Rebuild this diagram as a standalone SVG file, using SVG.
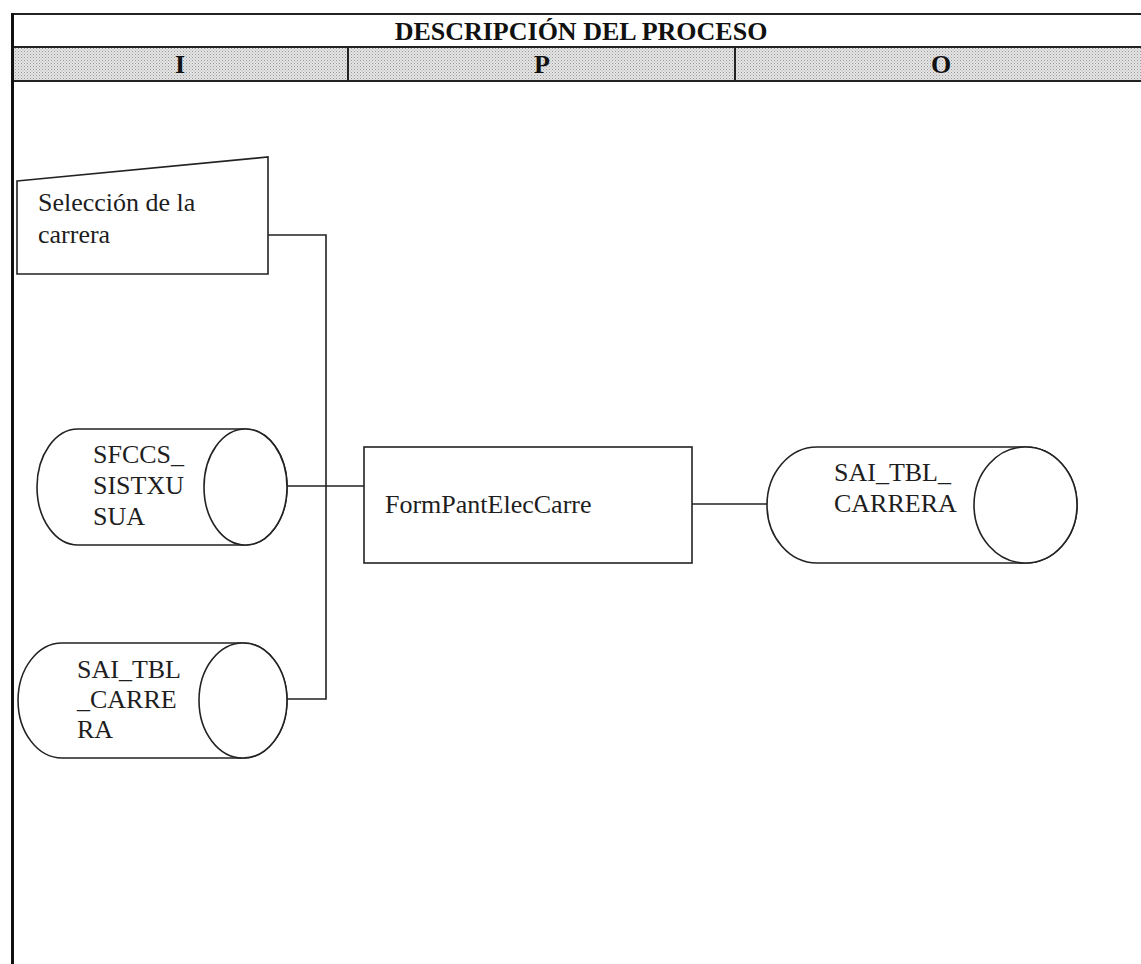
<svg xmlns="http://www.w3.org/2000/svg" width="1141" height="964" viewBox="0 0 1141 964">
<style>
.line{fill:none;stroke:#222;stroke-width:1.6}
.shape{fill:#fff;stroke:#222;stroke-width:1.6}
.grid{fill:none;stroke:#222;stroke-width:2}
.t{font-family:"Liberation Serif","Times New Roman",serif;font-size:26px;fill:#1e1e1e}
.h{font-family:"Liberation Serif","Times New Roman",serif;font-size:26px;font-weight:bold;fill:#111}
</style>
<defs>
<pattern id="dots" width="3" height="3" patternUnits="userSpaceOnUse">
<rect width="3" height="3" fill="#e4e4e4"/>
<rect x="0" y="0" width="1" height="1" fill="#9a9a9a"/>
<rect x="1.5" y="1.5" width="1" height="1" fill="#b0b0b0"/>
</pattern>
</defs>
<rect width="1141" height="964" fill="#fff"/>
<g id="header">
<rect x="13" y="47" width="1135" height="34" fill="url(#dots)"/>
<line class="grid" x1="12" y1="14" x2="1141" y2="14"/>
<line class="grid" x1="12" y1="47" x2="1141" y2="47"/>
<line class="grid" x1="12" y1="81" x2="1141" y2="81"/>
<line class="grid" x1="348" y1="47" x2="348" y2="81"/>
<line class="grid" x1="735" y1="47" x2="735" y2="81"/>
<line x1="12.5" y1="13" x2="12.5" y2="964" stroke="#111" stroke-width="3"/>
<text class="h" x="581" y="40" text-anchor="middle">DESCRIPCIÓN DEL PROCESO</text>
<text class="h" x="180" y="73" text-anchor="middle">I</text>
<text class="h" x="542" y="73" text-anchor="middle">P</text>
<text class="h" x="941" y="73" text-anchor="middle">O</text>
</g>
<g id="connectors">
<polyline class="line" points="268,235 326,235 326,699 287,699"/>
<line class="line" x1="287" y1="486" x2="364" y2="486"/>
<line class="line" x1="692" y1="504" x2="767" y2="504"/>
</g>
<g id="seleccion">
<polygon class="shape" points="17,181 268,157 268,274 17,274"/>
<text class="t" x="38" y="211">Selección de la</text>
<text class="t" x="38" y="243">carrera</text>
</g>
<g id="sfccs">
<path class="shape" d="M78,429 L245.5,429 A41.5,58 0 0 1 245.5,545 L78,545 A41,58 0 0 1 78,429 Z"/>
<ellipse class="shape" cx="245.5" cy="487" rx="41.5" ry="58"/>
<text class="t" x="93" y="463">SFCCS_</text>
<text class="t" x="93" y="494">SISTXU</text>
<text class="t" x="93" y="525">SUA</text>
</g>
<g id="sai_tbl_carrera_in">
<path class="shape" d="M62,643 L243,643 A44,57.5 0 0 1 243,758 L62,758 A44,57.5 0 0 1 62,643 Z"/>
<ellipse class="shape" cx="243" cy="700.5" rx="44" ry="57.5"/>
<text class="t" x="77" y="678">SAI_TBL</text>
<text class="t" x="77" y="708">_CARRE</text>
<text class="t" x="77" y="738">RA</text>
</g>
<g id="form">
<rect class="shape" x="364" y="447" width="328" height="116"/>
<text class="t" x="385" y="513">FormPantElecCarre</text>
</g>
<g id="sai_tbl_carrera_out">
<path class="shape" d="M817,447 L1025.5,447 A51.5,58 0 0 1 1025.5,563 L817,563 A50,58 0 0 1 817,447 Z"/>
<ellipse class="shape" cx="1025.5" cy="505" rx="51.5" ry="58"/>
<text class="t" x="834" y="481">SAI_TBL_</text>
<text class="t" x="834" y="512">CARRERA</text>
</g>
</svg>
